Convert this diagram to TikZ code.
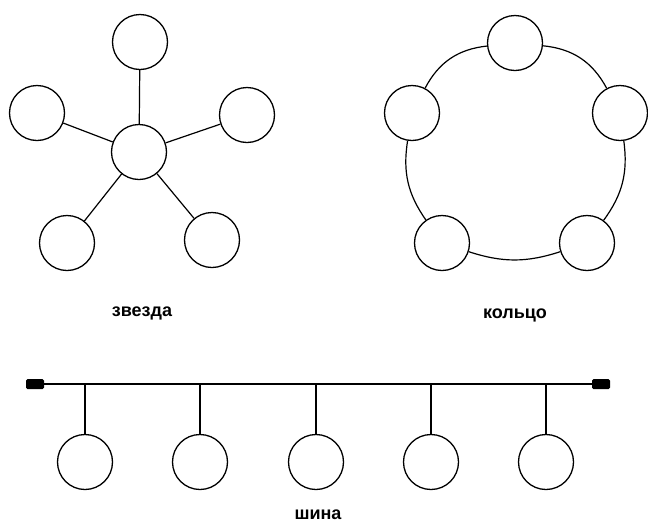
\documentclass[tikz,border=0pt]{standalone}
\usepackage{fontspec}
\newfontfamily\labfont{Liberation Sans Bold}
\begin{document}
\begin{tikzpicture}[x=1pt,y=-1pt,
  pc/.style={circle,draw=black,fill=white,line width=1.3pt,minimum size=55pt,inner sep=0pt},
  link/.style={draw=black,line width=1.2pt},
  term/.style={rectangle,rounded corners=1.5pt,fill=black,minimum width=18pt,minimum height=10pt,inner sep=0pt},
  lab/.style={font=\labfont\fontsize{18}{21}\selectfont,inner sep=0pt}]
\useasboundingbox (0,0) rectangle (648,523);
% star
\node[pc] (c) at (139,152) {};
\node[pc] (st) at (140,42) {};
\node[pc] (sl) at (37,113) {};
\node[pc] (sr) at (247,115) {};
\node[pc] (sbl) at (67,243) {};
\node[pc] (sbr) at (212,240) {};
\foreach \n in {st,sl,sr,sbl,sbr} \draw[link] (c) -- (\n);
\node[lab] (lstar) at (142,313) {звезда};
% ring
\node[pc] (rt) at (515,43) {};
\node[pc] (rr) at (620,113) {};
\node[pc] (rbr) at (587,243) {};
\node[pc] (rbl) at (442,243) {};
\node[pc] (rl) at (412,113) {};
\draw[link] (rt) to[bend left=28] (rr);
\draw[link] (rr) to[bend left=22] (rbr);
\draw[link] (rbr) to[bend left=18] (rbl);
\draw[link] (rbl) to[bend left=22] (rl);
\draw[link] (rl) to[bend left=28] (rt);
\node[lab] (lring) at (515,315) {кольцо};
% bus
\node[term] (tl) at (35,384) {};
\node[term] (tr) at (601,384) {};
\draw[link] (tl) -- (tr);
\foreach \i/\x in {1/85,2/200,3/316,4/431,5/546} {
  \node[pc] (b\i) at (\x,462) {};
  \draw[link] (b\i.north) -- (b\i.north |- tl.center);
}
\node[lab] (lbus) at (318,515) {шина};
\end{tikzpicture}
\end{document}
